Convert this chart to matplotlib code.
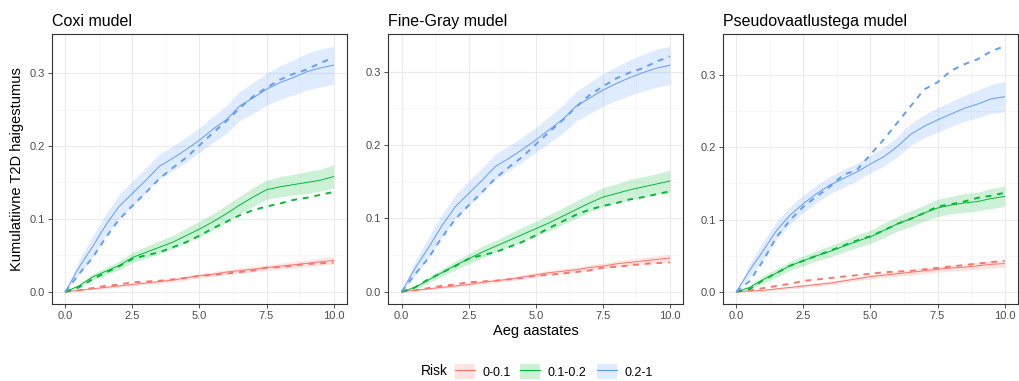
import matplotlib
matplotlib.use("Agg")
import matplotlib.pyplot as plt
from matplotlib.lines import Line2D
from matplotlib.patches import Patch

plt.rcParams["font.family"] = ["Liberation Sans", "DejaVu Sans"]

# aeg aastates
t = [0, 0.5, 1, 1.5, 2, 2.5, 3, 3.5, 4, 4.5, 5, 5.5, 6, 6.5, 7, 7.5, 8, 8.5, 9, 9.5, 10]

risk_groups = ["0-0.1", "0.1-0.2", "0.2-1"]
colors = ["#F8766D", "#00BA38", "#619CFF"]
panel_titles = ["Coxi mudel", "Fine-Gray mudel", "Pseudovaatlustega mudel"]

# Coxi mudel: hinnang ja usaldusvahemiku poollaius
cox_red = [0, 0.002, 0.004, 0.006, 0.008, 0.010, 0.012, 0.014, 0.016, 0.019, 0.022,
           0.024, 0.027, 0.029, 0.031, 0.033, 0.035, 0.037, 0.039, 0.041, 0.043]
cox_green = [0, 0.008, 0.020, 0.028, 0.036, 0.047, 0.054, 0.061, 0.068, 0.077, 0.086,
             0.096, 0.107, 0.119, 0.130, 0.140, 0.144, 0.147, 0.150, 0.153, 0.158]
cox_blue = [0, 0.033, 0.061, 0.091, 0.117, 0.135, 0.153, 0.172, 0.183, 0.195, 0.208,
            0.223, 0.236, 0.255, 0.266, 0.278, 0.287, 0.294, 0.302, 0.307, 0.311]
cox_red_hw = [0, 0.0005, 0.001, 0.0015, 0.002, 0.002, 0.002, 0.0025, 0.0025, 0.003, 0.003,
              0.003, 0.0035, 0.0035, 0.004, 0.004, 0.004, 0.0045, 0.0045, 0.005, 0.005]
cox_green_hw = [0, 0.002, 0.004, 0.005, 0.006, 0.007, 0.008, 0.009, 0.009, 0.010, 0.011,
                0.011, 0.012, 0.012, 0.013, 0.013, 0.014, 0.014, 0.015, 0.015, 0.016]
cox_blue_hw = [0, 0.010, 0.014, 0.015, 0.016, 0.017, 0.017, 0.017, 0.017, 0.017, 0.017,
               0.018, 0.019, 0.020, 0.021, 0.022, 0.023, 0.024, 0.025, 0.026, 0.026]

# Fine-Gray mudel
fg_red = [0, 0.002, 0.004, 0.006, 0.008, 0.010, 0.013, 0.015, 0.017, 0.020, 0.023,
          0.026, 0.028, 0.030, 0.033, 0.035, 0.038, 0.040, 0.042, 0.044, 0.046]
fg_green = [0, 0.006, 0.016, 0.026, 0.036, 0.045, 0.054, 0.062, 0.070, 0.078, 0.086,
            0.094, 0.103, 0.112, 0.121, 0.129, 0.134, 0.139, 0.143, 0.147, 0.151]
fg_blue = [0, 0.032, 0.060, 0.090, 0.116, 0.134, 0.152, 0.171, 0.182, 0.194, 0.207,
           0.221, 0.235, 0.253, 0.264, 0.275, 0.284, 0.292, 0.299, 0.305, 0.309]
fg_red_hw = cox_red_hw
fg_green_hw = [0, 0.002, 0.004, 0.005, 0.006, 0.007, 0.008, 0.008, 0.009, 0.010, 0.010,
               0.011, 0.011, 0.012, 0.012, 0.013, 0.013, 0.014, 0.014, 0.014, 0.015]
fg_blue_hw = cox_blue_hw

# pseudovaatlustega mudel
ps_red = [0, 0.001, 0.002, 0.004, 0.006, 0.008, 0.010, 0.012, 0.015, 0.018, 0.021,
          0.023, 0.025, 0.027, 0.029, 0.031, 0.033, 0.034, 0.036, 0.038, 0.039]
ps_green = [0, 0.006, 0.017, 0.026, 0.036, 0.043, 0.050, 0.056, 0.063, 0.070, 0.076,
            0.085, 0.094, 0.101, 0.109, 0.116, 0.120, 0.123, 0.125, 0.129, 0.132]
ps_blue = [0, 0.030, 0.057, 0.085, 0.106, 0.122, 0.136, 0.148, 0.157, 0.166, 0.177,
           0.187, 0.201, 0.218, 0.229, 0.238, 0.246, 0.254, 0.260, 0.267, 0.270]
ps_red_hw = [0, 0.0005, 0.001, 0.0015, 0.002, 0.002, 0.0025, 0.0025, 0.003, 0.003, 0.003,
             0.0035, 0.0035, 0.004, 0.004, 0.004, 0.0045, 0.0045, 0.005, 0.005, 0.005]
ps_green_hw = [0, 0.003, 0.005, 0.006, 0.006, 0.007, 0.007, 0.008, 0.008, 0.009, 0.009,
               0.010, 0.010, 0.011, 0.011, 0.012, 0.012, 0.013, 0.013, 0.014, 0.014]
ps_blue_hw = [0, 0.009, 0.012, 0.012, 0.012, 0.012, 0.012, 0.012, 0.012, 0.012, 0.012,
              0.013, 0.014, 0.015, 0.016, 0.017, 0.017, 0.018, 0.019, 0.020, 0.021]

# vaadeldud (katkendjoon), Coxi ja Fine-Gray paneelis samad
obs_red = [0, 0.002, 0.005, 0.008, 0.010, 0.013, 0.014, 0.015, 0.017, 0.019, 0.022,
           0.023, 0.025, 0.027, 0.029, 0.033, 0.034, 0.036, 0.038, 0.039, 0.040]
obs_green = [0, 0.006, 0.017, 0.026, 0.035, 0.045, 0.050, 0.054, 0.061, 0.068, 0.077,
             0.087, 0.096, 0.105, 0.112, 0.117, 0.121, 0.126, 0.129, 0.133, 0.137]
obs_blue = [0, 0.024, 0.046, 0.074, 0.099, 0.118, 0.136, 0.155, 0.170, 0.184, 0.201,
            0.218, 0.234, 0.252, 0.268, 0.280, 0.291, 0.299, 0.305, 0.314, 0.321]
ps_obs_red = [0, 0.002, 0.005, 0.008, 0.011, 0.015, 0.017, 0.019, 0.021, 0.023, 0.025,
              0.027, 0.028, 0.029, 0.031, 0.033, 0.035, 0.037, 0.039, 0.041, 0.043]
ps_obs_green = [0, 0.004, 0.016, 0.026, 0.036, 0.043, 0.050, 0.057, 0.064, 0.071, 0.077,
                0.085, 0.094, 0.101, 0.109, 0.118, 0.121, 0.125, 0.130, 0.133, 0.137]
ps_obs_blue = [0, 0.015, 0.043, 0.076, 0.099, 0.118, 0.132, 0.146, 0.162, 0.169, 0.190,
               0.211, 0.234, 0.257, 0.280, 0.290, 0.306, 0.315, 0.322, 0.333, 0.340]

panels = [
    ([cox_red, cox_green, cox_blue], [cox_red_hw, cox_green_hw, cox_blue_hw],
     [obs_red, obs_green, obs_blue]),
    ([fg_red, fg_green, fg_blue], [fg_red_hw, fg_green_hw, fg_blue_hw],
     [obs_red, obs_green, obs_blue]),
    ([ps_red, ps_green, ps_blue], [ps_red_hw, ps_green_hw, ps_blue_hw],
     [ps_obs_red, ps_obs_green, ps_obs_blue]),
]

fig = plt.figure(figsize=(10.19, 3.81), dpi=100)
lefts = [0.051, 0.381, 0.7095]
axes = [fig.add_axes([l, 0.202, 0.2895, 0.709]) for l in lefts]

for ax, title, (ests, hws, obss) in zip(axes, panel_titles, panels):
    ymax = 0
    for est, hw, obs, col in zip(ests, hws, obss, colors):
        lo = [e - h for e, h in zip(est, hw)]
        hi = [e + h for e, h in zip(est, hw)]
        ax.fill_between(t, lo, hi, color=col, alpha=0.2, lw=0, zorder=2)
        ax.plot(t, est, color=col, lw=0.7, zorder=3)
        ax.plot(t, obs, color=col, lw=1.4, ls=(0, (3, 3)), zorder=3)
        ymax = max(ymax, max(hi), max(obs))
    ax.set_xlim(-0.5, 10.5)
    ax.set_ylim(-0.05 * ymax, 1.05 * ymax)
    ax.set_xticks([0, 2.5, 5, 7.5, 10])
    ax.set_xticklabels(["0.0", "2.5", "5.0", "7.5", "10.0"])
    ax.set_yticks([0, 0.1, 0.2, 0.3])
    ax.set_yticklabels(["0.0", "0.1", "0.2", "0.3"])
    ax.set_xticks([1.25, 3.75, 6.25, 8.75], minor=True)
    ax.set_yticks([0.05, 0.15, 0.25], minor=True)
    ax.grid(True, which="major", color="#EBEBEB", lw=0.8, zorder=0)
    ax.grid(True, which="minor", color="#F4F4F4", lw=0.5, zorder=0)
    ax.set_axisbelow(True)
    ax.tick_params(which="major", length=3, color="#333333", labelsize=8,
                   labelcolor="#4D4D4D", width=0.6, pad=2)
    ax.tick_params(which="minor", length=0)
    for s in ax.spines.values():
        s.set_color("#333333")
        s.set_linewidth(0.8)
    ax.set_title(title, loc="left", fontsize=11.5, pad=6)

axes[0].set_ylabel("Kumulatiivne T2D haigestumus", fontsize=10.5, labelpad=4)
axes[1].set_xlabel("Aeg aastates", fontsize=10.5, labelpad=2)

handles = [(Patch(facecolor=c, alpha=0.2, edgecolor="none"), Line2D([], [], color=c, lw=0.8))
           for c in colors]
fig.text(0.413, 0.025, "Risk", fontsize=10, va="center", ha="left")
fig.legend(handles, risk_groups, loc="center left", bbox_to_anchor=(0.435, 0.025), ncol=3,
           frameon=False, fontsize=9, handlelength=1.6, handleheight=1.4,
           columnspacing=0.8, handletextpad=0.6)

fig.savefig("out.png", dpi=100)
